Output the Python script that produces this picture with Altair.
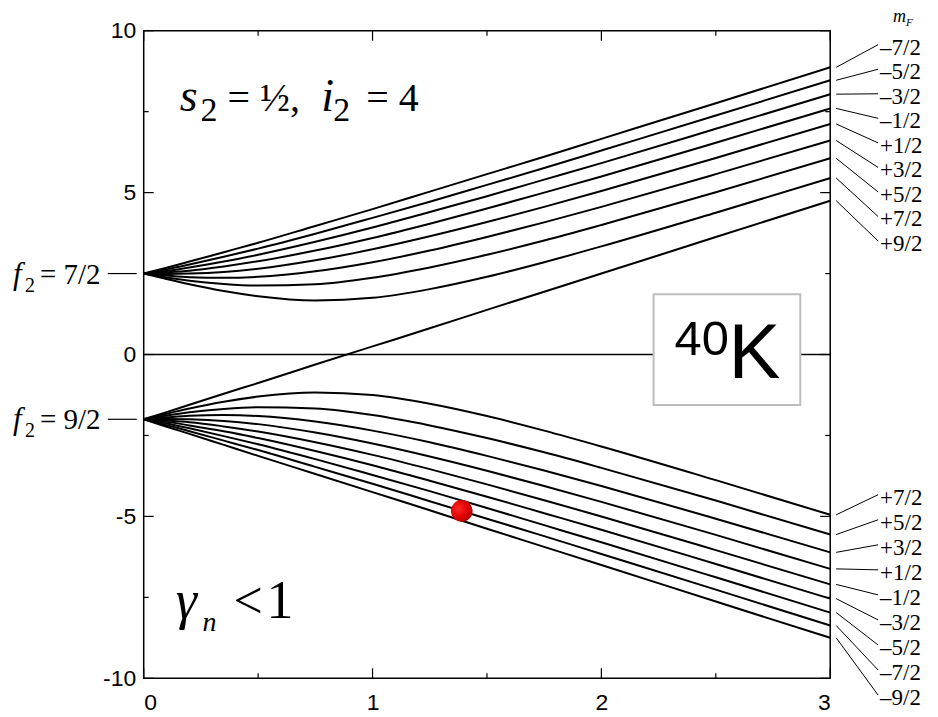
import altair as alt
import pandas as pd

# ---------------- data ----------------
X = [0, 0.1, 0.2, 0.35, 0.5, 0.75, 1.0, 1.25, 1.5, 1.75, 2.0, 2.5, 3.0]

# upper fan (f2 = 7/2), mF = -7/2 ... +7/2
U_M7 = [2.5, 2.68, 2.87, 3.16, 3.45, 3.97, 4.49, 5.03, 5.57, 6.11, 6.66, 7.76, 8.87]
U_M5 = [2.5, 2.63, 2.78, 3.02, 3.27, 3.73, 4.22, 4.72, 5.24, 5.76, 6.30, 7.38, 8.47]
U_M3 = [2.5, 2.58, 2.69, 2.87, 3.08, 3.48, 3.92, 4.40, 4.89, 5.40, 5.91, 6.97, 8.04]
U_M1 = [2.5, 2.54, 2.59, 2.72, 2.88, 3.21, 3.60, 4.04, 4.51, 5.00, 5.50, 6.54, 7.60]
U_P1 = [2.5, 2.49, 2.50, 2.55, 2.65, 2.91, 3.25, 3.65, 4.09, 4.56, 5.05, 6.07, 7.12]
U_P3 = [2.5, 2.44, 2.39, 2.37, 2.40, 2.57, 2.85, 3.21, 3.63, 4.08, 4.56, 5.57, 6.61]
U_P5 = [2.5, 2.38, 2.28, 2.18, 2.13, 2.17, 2.37, 2.69, 3.08, 3.52, 4.00, 5.01, 6.06]
U_P7 = [2.5, 2.33, 2.17, 1.96, 1.80, 1.67, 1.75, 2.02, 2.40, 2.85, 3.34, 4.38, 5.45]
# stretched state mF = +9/2 (starts in the f2 = 9/2 fan)
S_P9 = [-2.0, -1.78, -1.55, -1.21, -0.88, -0.31, 0.25, 0.81, 1.38, 1.94, 2.50, 3.63, 4.75]

# lower fan (f2 = 9/2), mF = +7/2 ... -9/2
L_P7 = [-2.0, -1.83, -1.67, -1.46, -1.30, -1.17, -1.25, -1.52, -1.90, -2.35, -2.84, -3.88, -4.95]
L_P5 = [-2.0, -1.88, -1.78, -1.68, -1.63, -1.67, -1.87, -2.19, -2.58, -3.02, -3.50, -4.51, -5.56]
L_P3 = [-2.0, -1.94, -1.89, -1.87, -1.90, -2.07, -2.35, -2.71, -3.13, -3.58, -4.06, -5.07, -6.11]
L_P1 = [-2.0, -1.99, -2.00, -2.05, -2.15, -2.41, -2.75, -3.15, -3.59, -4.06, -4.55, -5.57, -6.62]
L_M1 = [-2.0, -2.04, -2.09, -2.22, -2.38, -2.71, -3.10, -3.54, -4.01, -4.50, -5.00, -6.04, -7.10]
L_M3 = [-2.0, -2.08, -2.19, -2.37, -2.58, -2.98, -3.42, -3.90, -4.39, -4.90, -5.41, -6.47, -7.54]
L_M5 = [-2.0, -2.13, -2.28, -2.52, -2.77, -3.23, -3.72, -4.22, -4.74, -5.27, -5.80, -6.88, -7.97]
L_M7 = [-2.0, -2.18, -2.37, -2.66, -2.95, -3.47, -3.99, -4.53, -5.07, -5.61, -6.16, -7.26, -8.37]
L_M9 = [-2.0, -2.23, -2.45, -2.79, -3.13, -3.69, -4.25, -4.81, -5.38, -5.94, -6.50, -7.63, -8.75]

UPPER_LABELS = ["\u20137/2", "\u20135/2", "\u20133/2", "\u20131/2", "+1/2", "+3/2", "+5/2", "+7/2", "+9/2"]
LOWER_LABELS = ["+7/2", "+5/2", "+3/2", "+1/2", "\u20131/2", "\u20133/2", "\u20135/2", "\u20137/2", "\u20139/2"]

Y_MAJOR = [-10, -5, 0, 5, 10]
Y_MINOR = [-7.5, -2.5, 2.5, 7.5]
X_MAJOR = [0, 1, 2, 3]
X_MINOR = [0.5, 1.5, 2.5]

F2_LEVELS = [2.5, -2.0]
F2_NAMES = ["= 7/2", "= 9/2"]

DOT_X = [1.39]
DOT_Y = [-4.83]

# ---------------- layout ----------------
W, H = 688, 649
SERIF = "Liberation Serif"
SANS = "Liberation Sans"
YMIN, YMAX = -10, 10

xs = alt.Scale(domain=[0, 3], nice=False, zero=False)
ys = alt.Scale(domain=[YMIN, YMAX], nice=False, zero=False)


def px_to_y(py):
    return YMAX - py * (YMAX - YMIN) / H


upper = [U_M7, U_M5, U_M3, U_M1, U_P1, U_P3, U_P5, U_P7, S_P9]
lower = [L_P7, L_P5, L_P3, L_P1, L_M1, L_M3, L_M5, L_M7, L_M9]

rows = []
for i, ser in enumerate(upper + lower):
    for xv, ev in zip(X, ser):
        rows.append({"cid": i, "x": xv, "e": ev})
curves = pd.DataFrame(rows)

lab_rows = []
for i, (lab, ser) in enumerate(zip(UPPER_LABELS, upper)):
    py = 17 + 24.6 * i
    lab_rows.append({"lab": lab, "yl": px_to_y(py), "yt": px_to_y(py - 3), "yend": ser[-1]})
for i, (lab, ser) in enumerate(zip(LOWER_LABELS, lower)):
    py = 468 + 25.1 * i
    lab_rows.append({"lab": lab, "yl": px_to_y(py), "yt": px_to_y(py - 3), "yend": ser[-1]})
labels = pd.DataFrame(lab_rows)

x_axis = alt.Axis(values=X_MAJOR, ticks=False, domain=False, grid=False,
                  labelFont=SANS, labelFontSize=23, labelColor="black",
                  labelPadding=13, labelExpr="'' + datum.value", title=None)
y_axis = alt.Axis(values=Y_MAJOR, ticks=False, domain=False, grid=False,
                  labelFont=SANS, labelFontSize=23, labelColor="black",
                  labelPadding=8, labelExpr="'' + datum.value", title=None)

layers = []

# curves (first layer carries the axes)
layers.append(
    alt.Chart(curves).mark_line(color="black", strokeWidth=2, interpolate="monotone", clip=True).encode(
        x=alt.X("x:Q", scale=xs, axis=x_axis, title=None),
        y=alt.Y("e:Q", scale=ys, axis=y_axis, title=None),
        detail="cid:N",
    )
)

# zero line
layers.append(
    alt.Chart(pd.DataFrame({"v": [0]})).mark_rule(color="black", strokeWidth=1.5).encode(
        y=alt.Y("v:Q", scale=ys, axis=y_axis, title=None), x=alt.value(0), x2=alt.value(W)
    )
)


# inward ticks
def yticks(vals, length):
    d = pd.DataFrame({"v": vals})
    left = alt.Chart(d).mark_rule(color="black", strokeWidth=1.2).encode(
        y=alt.Y("v:Q", scale=ys, axis=y_axis, title=None), x=alt.value(0), x2=alt.value(length))
    right = alt.Chart(d).mark_rule(color="black", strokeWidth=1.2).encode(
        y=alt.Y("v:Q", scale=ys, axis=y_axis, title=None), x=alt.value(W), x2=alt.value(W - length))
    return [left, right]


def xticks(vals, length):
    d = pd.DataFrame({"v": vals})
    bot = alt.Chart(d).mark_rule(color="black", strokeWidth=1.2).encode(
        x=alt.X("v:Q", scale=xs, axis=x_axis, title=None), y=alt.value(H), y2=alt.value(H - length))
    top = alt.Chart(d).mark_rule(color="black", strokeWidth=1.2).encode(
        x=alt.X("v:Q", scale=xs, axis=x_axis, title=None), y=alt.value(0), y2=alt.value(length))
    return [bot, top]


layers += yticks(Y_MAJOR, 10) + yticks(Y_MINOR, 5) + xticks(X_MAJOR, 10) + xticks(X_MINOR, 5)

# 40K box
layers.append(
    alt.Chart(pd.DataFrame({"a": [0]})).mark_rect(fill="white", stroke="#bdbdbd", strokeWidth=2).encode(
        x=alt.value(511), x2=alt.value(658), y=alt.value(264), y2=alt.value(375)
    )
)


def txt(t, x, y, size, italic=False, font=SERIF, align="left"):
    return alt.Chart(pd.DataFrame({"t": [t]})).mark_text(
        font=font, fontSize=size, fontStyle="italic" if italic else "normal",
        align=align, baseline="alphabetic", color="black"
    ).encode(text="t:N", x=alt.value(x), y=alt.value(y))


layers.append(txt("40", 532, 325, 49, font=SANS))
layers.append(txt("K", 586, 348, 78, font=SANS))

# s2 = 1/2, i2 = 4
layers.append(txt("s", 36, 80, 46, italic=True))
layers.append(txt("2", 57, 90, 34))
layers.append(txt("= \u00bd,", 84, 80, 40))
layers.append(txt("i", 178, 80, 46, italic=True))
layers.append(txt("2", 190, 90, 34))
layers.append(txt("= 4", 223, 80, 40))

# gamma_n < 1
layers.append(txt("\u03b3", 32, 589, 54, italic=True))
layers.append(txt("n", 59, 602, 28, italic=True))
layers.append(txt("<", 90, 589, 52))
layers.append(txt("1", 123, 589, 54))

# mF header
layers.append(txt("m", 751, -9, 18, italic=True))
layers.append(txt("F", 764, -5, 11, italic=True))

# f2 labels on the left
f2 = pd.DataFrame({"v": F2_LEVELS, "t": F2_NAMES})
layers.append(
    alt.Chart(f2).mark_rule(color="black", strokeWidth=1.2).encode(
        y=alt.Y("v:Q", scale=ys, axis=y_axis, title=None), x=alt.value(-36), x2=alt.value(-7))
)
layers.append(
    alt.Chart(f2).mark_text(font=SERIF, fontSize=29, align="left", baseline="alphabetic", dy=10).encode(
        y=alt.Y("v:Q", scale=ys, axis=y_axis, title=None), x=alt.value(-104), text="t:N")
)
layers.append(
    alt.Chart(f2.assign(f="f")).mark_text(font=SERIF, fontSize=31, fontStyle="italic", align="left",
                                          baseline="alphabetic", dy=10).encode(
        y=alt.Y("v:Q", scale=ys, axis=y_axis, title=None), x=alt.value(-131), text="f:N")
)
layers.append(
    alt.Chart(f2.assign(s="2")).mark_text(font=SERIF, fontSize=20, align="left",
                                          baseline="alphabetic", dy=18).encode(
        y=alt.Y("v:Q", scale=ys, axis=y_axis, title=None), x=alt.value(-119), text="s:N")
)

# right-hand mF labels with leader lines
layers.append(
    alt.Chart(labels).mark_rule(color="black", strokeWidth=1).encode(
        y=alt.Y("yend:Q", scale=ys, axis=y_axis, title=None), y2="yt:Q", x=alt.value(694), x2=alt.value(736))
)
layers.append(
    alt.Chart(labels).mark_text(font=SERIF, fontSize=23, align="left", baseline="middle").encode(
        y=alt.Y("yl:Q", scale=ys, axis=y_axis, title=None), x=alt.value(738), text="lab:N")
)

# red dot
dot_fill = {
    "gradient": "radial",
    "x1": 0.35, "y1": 0.4, "r1": 0,
    "x2": 0.35, "y2": 0.4, "r2": 0.75,
    "stops": [
        {"offset": 0, "color": "#ff2a2a"},
        {"offset": 0.55, "color": "#e00000"},
        {"offset": 1, "color": "#9a0000"},
    ],
}
layers.append(
    alt.Chart(pd.DataFrame({"x": DOT_X, "y": DOT_Y})).mark_point(
        filled=True, fill=dot_fill, size=470, opacity=1, shape="circle", strokeWidth=0
    ).encode(x=alt.X("x:Q", scale=xs, axis=x_axis, title=None),
             y=alt.Y("y:Q", scale=ys, axis=y_axis, title=None))
)

chart = alt.layer(*layers).properties(
    width=W, height=H,
    padding={"left": 136, "top": 22, "right": 100, "bottom": 37},
    autosize=alt.AutoSizeParams(type="none"),
).configure_view(stroke="black", strokeWidth=1.5)

chart.save("out.html", embed_options={"renderer": "svg", "actions": False})
